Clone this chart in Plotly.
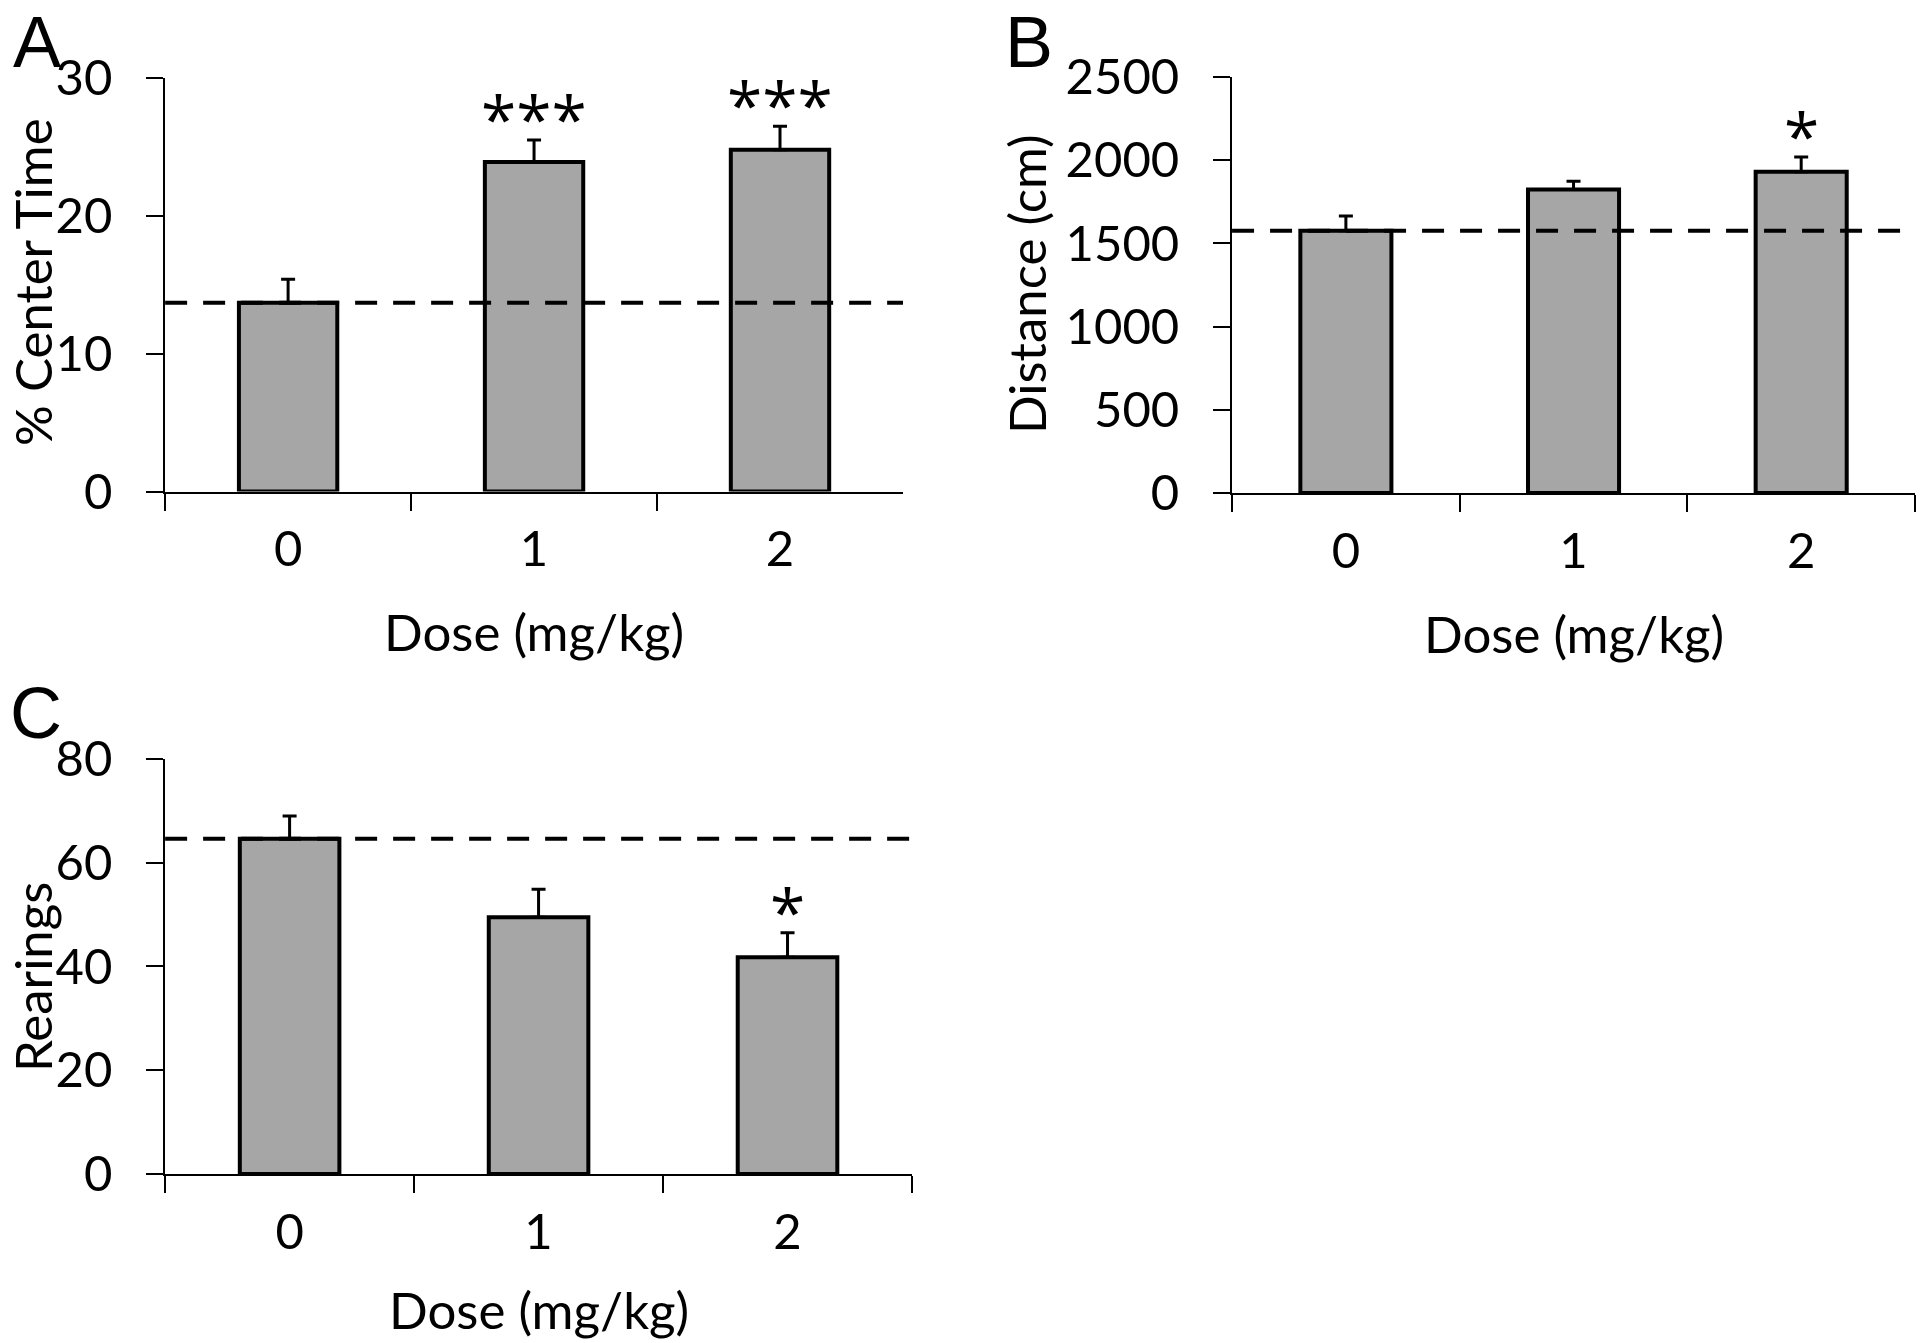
import plotly.graph_objects as go

doses = ["0", "1", "2"]

center_mean = [13.7, 23.9, 24.8]
center_sem = [1.7, 1.6, 1.7]
center_stars = ["", "***", "***"]

dist_mean = [1576, 1823, 1930]
dist_sem = [89, 51, 89]
dist_stars = ["", "", "*"]

rear_mean = [64.6, 49.5, 41.8]
rear_sem = [4.4, 5.4, 4.7]
rear_stars = ["", "", "*"]

y_titles = ["% Center Time", "Distance (cm)", "Rearings"]
y_ranges = [[0, 30], [0, 2500], [0, 80]]
y_dticks = [10, 500, 20]
panel_letters = ["A", "B", "C"]
x_title = "Dose (mg/kg)"

FONT = "Lato"
FS_TICK = 49
FS_TITLE = 51
BAR_FILL = "#a6a6a6"

panels = [
    (center_mean, center_sem, center_stars),
    (dist_mean, dist_sem, dist_stars),
    (rear_mean, rear_sem, rear_stars),
]

W, H = 1920, 1343
# layout geometry (paper fractions)
x_domains = [[0.0860, 0.4703], [0.6417, 0.9974], [0.0860, 0.4750]]
y_domains = [[0.6340, 0.9419], [0.6329, 0.9427], [0.1258, 0.4349]]
# axis-title centres in px (x for y-titles, y for x-titles)
ytitle_pos = [(32, 282), (1027, 284), (32, 977)]
xtitle_y = [631, 633, 1309]
letter_pos = [(11, 0), (1003, 0), (8, 671)]

fig = go.Figure()
annotations = []
for i, (mean, sem, stars) in enumerate(panels):
    xa = "x" if i == 0 else f"x{i+1}"
    ya = "y" if i == 0 else f"y{i+1}"
    fig.add_trace(go.Bar(
        x=doses, y=mean, width=0.4, xaxis=xa, yaxis=ya,
        marker=dict(color=BAR_FILL, line=dict(color="black", width=4)),
        error_y=dict(type="data", array=sem, arrayminus=[0] * len(sem),
                     symmetric=False, color="black", thickness=3, width=7),
        showlegend=False, hoverinfo="skip",
    ))
    # baseline (control mean) reference line across the full axis
    fig.add_shape(type="line", xref=f"{xa} domain", yref=ya,
                  x0=0, x1=1, y0=mean[0], y1=mean[0],
                  line=dict(color="black", width=4, dash="22px,16px"),
                  layer="above")
    for d, m, s, st in zip(doses, mean, sem, stars):
        if st:
            annotations.append(dict(
                x=d, y=m + s, xref=xa, yref=ya, text=st, showarrow=False,
                yanchor="bottom", yshift=-24,
                font=dict(family="Open Sans", size=64, color="black")))
    ax_common = dict(showline=True, linecolor="black", linewidth=2,
                     showgrid=False, zeroline=False, ticks="outside",
                     tickcolor="black", tickwidth=2, ticklen=17,
                     automargin=False,
                     tickfont=dict(family=FONT, size=FS_TICK, color="black"))
    fig.layout[("xaxis" if i == 0 else f"xaxis{i+1}")] = dict(
        ax_common, domain=x_domains[i], anchor=ya, type="category",
        categoryorder="array", categoryarray=doses, tickson="boundaries",
        range=[-0.5, 2.5], ticklabelstandoff=14)
    fig.layout[("yaxis" if i == 0 else f"yaxis{i+1}")] = dict(
        ax_common, domain=y_domains[i], anchor=xa,
        range=y_ranges[i], dtick=y_dticks[i], tick0=0, ticklabelstandoff=24)
    # axis titles
    annotations.append(dict(
        x=ytitle_pos[i][0] / W, y=1 - ytitle_pos[i][1] / H,
        xref="paper", yref="paper", xanchor="center", yanchor="middle",
        textangle=-90, text=y_titles[i], showarrow=False,
        font=dict(family=FONT, size=FS_TITLE, color="black")))
    annotations.append(dict(
        x=sum(x_domains[i]) / 2, y=1 - xtitle_y[i] / H,
        xref="paper", yref="paper", xanchor="center", yanchor="middle",
        text=x_title, showarrow=False,
        font=dict(family=FONT, size=FS_TITLE, color="black")))
    annotations.append(dict(
        x=letter_pos[i][0] / W, y=1 - letter_pos[i][1] / H,
        xref="paper", yref="paper",
        xanchor="left", yanchor="top", text=panel_letters[i],
        showarrow=False,
        font=dict(family="Liberation Sans", size=72, color="black")))

fig.update_layout(
    width=W, height=H, autosize=False,
    margin=dict(l=0, r=0, t=0, b=0, pad=0),
    paper_bgcolor="white", plot_bgcolor="white",
    bargap=0.6, annotations=annotations,
)

fig.write_html("out.html", config={"displayModeBar": False},
               post_script="document.body.style.margin='0';")
